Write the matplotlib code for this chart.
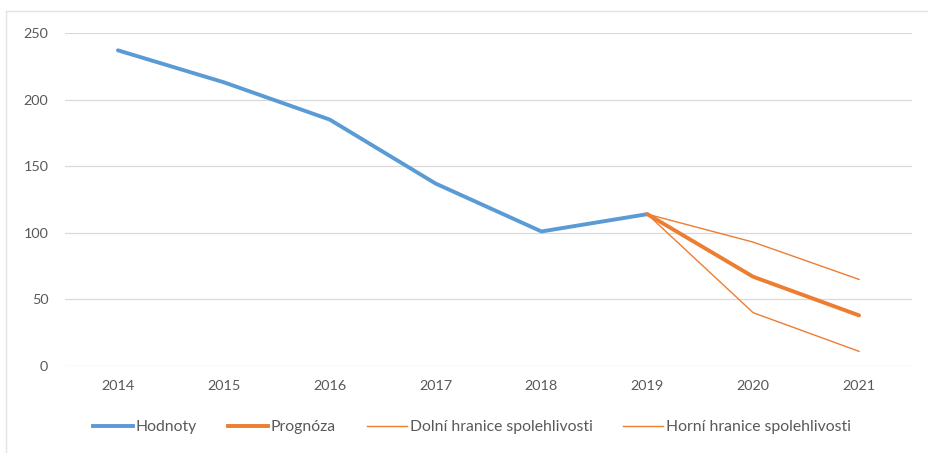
import matplotlib.pyplot as plt
from matplotlib.lines import Line2D

# Data
years = ['2014', '2015', '2016', '2017', '2018', '2019', '2020', '2021']
hodnoty = [237, 213, 185, 137, 101, 114]
prognoza = [114, 67, 38]
dolni = [114, 40, 11]
horni = [114, 93, 65]
yticks = [0, 50, 100, 150, 200, 250]

blue = '#5B9BD5'
orange = '#ED7D31'
grey_txt = '#595959'
grid_c = '#D9D9D9'

plt.rcParams['font.family'] = ['Lato', 'DejaVu Sans']

fig = plt.figure(figsize=(9.29, 4.53), dpi=100)
ax = fig.add_axes([65 / 929, 87 / 453, (912 - 65) / 929, (366 - 33) / 453])

x_all = list(range(len(years)))
x_hist = x_all[:len(hodnoty)]
x_fc = x_all[len(hodnoty) - 1:]

ax.plot(x_hist, hodnoty, color=blue, lw=2.8, solid_capstyle='round', label='Hodnoty', zorder=3)
ax.plot(x_fc, dolni, color=orange, lw=1.0, label='Dolní hranice spolehlivosti', zorder=3)
ax.plot(x_fc, horni, color=orange, lw=1.0, label='Horní hranice spolehlivosti', zorder=3)
ax.plot(x_fc, prognoza, color=orange, lw=2.8, solid_capstyle='round', label='Prognóza', zorder=4)

ax.set_xlim(-0.5, len(years) - 0.5)
ax.set_ylim(0, 250)
ax.set_xticks(x_all)
ax.set_xticklabels(years)
ax.set_yticks(yticks)
ax.grid(axis='y', color=grid_c, lw=0.9)
ax.set_axisbelow(True)
for s in ax.spines.values():
    s.set_visible(False)
ax.tick_params(axis='both', length=0, labelsize=10.4, colors=grey_txt)
ax.tick_params(axis='y', pad=12)
ax.tick_params(axis='x', pad=10)

handles = [
    Line2D([], [], color=blue, lw=2.8),
    Line2D([], [], color=orange, lw=2.8),
    Line2D([], [], color=orange, lw=1.0),
    Line2D([], [], color=orange, lw=1.0),
]
labels = ['Hodnoty', 'Prognóza', 'Dolní hranice spolehlivosti', 'Horní hranice spolehlivosti']
leg = fig.legend(handles, labels, loc='center', bbox_to_anchor=(472 / 929, 1 - 427 / 453),
                 ncol=4, frameon=False, fontsize=11.3, handlelength=2.55,
                 handletextpad=0.2, columnspacing=1.95, borderpad=0, borderaxespad=0)
for t in leg.get_texts():
    t.set_color(grey_txt)

# worksheet cell borders visible around the chart
fig.add_artist(Line2D([6 / 929, 1], [1 - 11 / 453, 1 - 11 / 453], color='#E3E3E3', lw=1))
fig.add_artist(Line2D([6 / 929, 6 / 929], [0, 1 - 11 / 453], color='#E3E3E3', lw=1))

fig.savefig('out.png', dpi=100)
